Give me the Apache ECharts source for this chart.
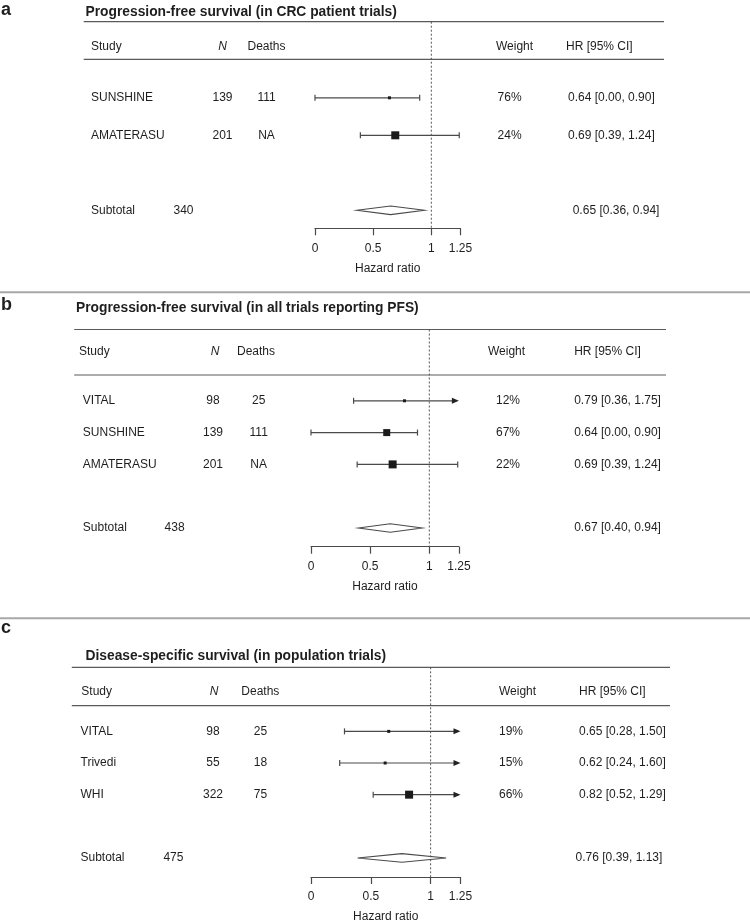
<!DOCTYPE html>
<html>
<head>
<meta charset="utf-8">
<script src="https://cdn.jsdelivr.net/npm/echarts@6/dist/echarts.min.js"></script>
<style>
html,body{margin:0;padding:0;background:#fff;}
#chart{width:750px;height:924px;}
</style>
</head>
<body>
<div id="chart"></div>
<script>
// ---------------- DATA ----------------
const LETTERS = ['a', 'b', 'c'];
const TITLES = [
  'Progression-free survival (in CRC patient trials)',
  'Progression-free survival (in all trials reporting PFS)',
  'Disease-specific survival (in population trials)'
];
const HEADERS = ['Study', 'N', 'Deaths', 'Weight', 'HR [95% CI]'];
const SUBTOTAL_LABEL = 'Subtotal';
const X_NAME = 'Hazard ratio';
const TICKS = [0, 0.5, 1, 1.25];
const X_MIN = 0;
const X_MAX = 1.25;

// Panel a
const A_STUDY = ['SUNSHINE', 'AMATERASU'];
const A_N = [139, 201];
const A_DEATHS = ['111', 'NA'];
const A_WEIGHT = ['76%', '24%'];
const A_HR = [0.64, 0.69];
const A_LO = [0.00, 0.39];
const A_HI = [0.90, 1.24];
const A_TOTAL_N = 340;
const A_SUB = [0.65, 0.36, 0.94];

// Panel b
const B_STUDY = ['VITAL', 'SUNSHINE', 'AMATERASU'];
const B_N = [98, 139, 201];
const B_DEATHS = ['25', '111', 'NA'];
const B_WEIGHT = ['12%', '67%', '22%'];
const B_HR = [0.79, 0.64, 0.69];
const B_LO = [0.36, 0.00, 0.39];
const B_HI = [1.75, 0.90, 1.24];
const B_TOTAL_N = 438;
const B_SUB = [0.67, 0.40, 0.94];

// Panel c
const C_STUDY = ['VITAL', 'Trivedi', 'WHI'];
const C_N = [98, 55, 322];
const C_DEATHS = ['25', '18', '75'];
const C_WEIGHT = ['19%', '15%', '66%'];
const C_HR = [0.65, 0.62, 0.82];
const C_LO = [0.28, 0.24, 0.52];
const C_HI = [1.50, 1.60, 1.29];
const C_TOTAL_N = 475;
const C_SUB = [0.76, 0.39, 1.13];

const PANELS = [
  {study: A_STUDY, n: A_N, deaths: A_DEATHS, weight: A_WEIGHT, hr: A_HR, lo: A_LO, hi: A_HI, totalN: A_TOTAL_N, sub: A_SUB},
  {study: B_STUDY, n: B_N, deaths: B_DEATHS, weight: B_WEIGHT, hr: B_HR, lo: B_LO, hi: B_HI, totalN: B_TOTAL_N, sub: B_SUB},
  {study: C_STUDY, n: C_N, deaths: C_DEATHS, weight: C_WEIGHT, hr: C_HR, lo: C_LO, hi: C_HI, totalN: C_TOTAL_N, sub: C_SUB}
];

// ---------------- LAYOUT / STYLE ----------------
const FONT = '"Liberation Sans", Arial, Helvetica, sans-serif';
const INK = '#1e1e1e';
const LINE_INK = '#4a4a4a';
const SEPARATORS = [292.3, 618.3];

const LAYOUT = [
  {letterY: 10, titleX: 85.5, titleY: 12, ruleL: 83.7, ruleR: 664, top: 21.7, headY: 46.7, headRule: 59.3,
   axisY: 228.3, gridL: 315, gridR: 460.4, row1: 97.8, step: 37.5,
   col: {study: 91, studyHead: 91, n: 222.5, nHead: 222.5, nSub: 183.5, deaths: 266.5, deathsHead: 266.5,
         weight: 497.6, weightHead: 496, hr: 568, hrHead: 566, hrSub: 572.7},
   box: [3, 8]},
  {letterY: 305, titleX: 76, titleY: 308.5, ruleL: 74.2, ruleR: 666, top: 329.5, headY: 352, headRule: 375,
   axisY: 546.7, gridL: 311, gridR: 458.9, row1: 400.8, step: 31.8,
   col: {study: 82.8, studyHead: 79, n: 213, nHead: 215, nSub: 174.6, deaths: 258.7, deathsHead: 256,
         weight: 496, weightHead: 488, hr: 574.2, hrHead: 574.2, hrSub: 574.2},
   box: [3, 7, 8]},
  {letterY: 628, titleX: 85.5, titleY: 656, ruleL: 71.8, ruleR: 670, top: 667.3, headY: 691.7, headRule: 705.7,
   axisY: 880.7, gridL: 311, gridR: 460.5, row1: 732.5, step: 32.2,
   col: {study: 80.5, studyHead: 81.3, n: 213, nHead: 214, nSub: 173.4, deaths: 260.5, deathsHead: 260.3,
         weight: 499, weightHead: 499, hr: 579, hrHead: 579, hrSub: 575.6},
   box: [3, 3, 8]}
];
const CAP = 3;
const ARROW_LEN = 7;
const ARROW_HALF = 3;
const DIAMOND_HALF = 4.3;

function yRange(L) {
  return [1 - (L.row1 - L.top) / L.step, 1 + (L.axisY - L.row1) / L.step];
}
function hrText(h, l, u) {
  return h.toFixed(2) + ' [' + l.toFixed(2) + ', ' + u.toFixed(2) + ']';
}
function txt(text, x, y, align, font) {
  return {
    type: 'text', x: x, y: y, silent: true,
    style: {text: text, fill: INK, font: font || ('12px ' + FONT),
            textAlign: align, align: align, textVerticalAlign: 'middle', verticalAlign: 'middle'}
  };
}

function forestRender(pi) {
  return function (params, api) {
    const L = LAYOUT[pi];
    const hr = api.value(0), lo = api.value(1), hi = api.value(2), row = api.value(3);
    const clipped = hi > X_MAX;
    const pL = api.coord([lo, row]);
    const pH = api.coord([Math.min(hi, X_MAX), row]);
    const pC = api.coord([hr, row]);
    const y = pL[1];
    const ls = {stroke: LINE_INK, lineWidth: 1.2};
    const ch = [];
    const endX = clipped ? pH[0] - ARROW_LEN + 1 : pH[0];
    ch.push({type: 'line', shape: {x1: pL[0], y1: y, x2: endX, y2: y}, style: ls});
    ch.push({type: 'line', shape: {x1: pL[0], y1: y - CAP, x2: pL[0], y2: y + CAP}, style: ls});
    if (clipped) {
      ch.push({type: 'polygon', shape: {points: [[pH[0], y], [pH[0] - ARROW_LEN, y - ARROW_HALF], [pH[0] - ARROW_LEN, y + ARROW_HALF]]},
               style: {fill: '#222'}});
    } else {
      ch.push({type: 'line', shape: {x1: pH[0], y1: y - CAP, x2: pH[0], y2: y + CAP}, style: ls});
    }
    const s = L.box[params.dataIndex];
    ch.push({type: 'rect', shape: {x: pC[0] - s / 2, y: y - s / 2, width: s, height: s}, style: {fill: '#1a1a1a'}});
    return {type: 'group', children: ch};
  };
}

function diamondRender(pi) {
  return function (params, api) {
    const hr = api.value(0), lo = api.value(1), hi = api.value(2), row = api.value(3);
    const pL = api.coord([lo, row]), pH = api.coord([hi, row]), pC = api.coord([hr, row]);
    const y = pC[1];
    return {
      type: 'polygon',
      shape: {points: [[pL[0], y], [pC[0], y - DIAMOND_HALF], [pH[0], y], [pC[0], y + DIAMOND_HALF]]},
      style: {fill: '#fff', stroke: LINE_INK, lineWidth: 1.1}
    };
  };
}

function textRender(pi) {
  return function (params, api) {
    const L = LAYOUT[pi], P = PANELS[pi], c = L.col;
    const row = api.value(0);
    const y = api.coord([0, row])[1];
    const k = params.dataIndex;
    const els = [];
    if (k < P.study.length) {
      els.push(txt(P.study[k], c.study, y, 'left'));
      els.push(txt(String(P.n[k]), c.n, y, 'center'));
      els.push(txt(P.deaths[k], c.deaths, y, 'center'));
      els.push(txt(P.weight[k], c.weight, y, 'left'));
      els.push(txt(hrText(P.hr[k], P.lo[k], P.hi[k]), c.hr, y, 'left'));
    } else {
      els.push(txt(SUBTOTAL_LABEL, c.study, y, 'left'));
      els.push(txt(String(P.totalN), c.nSub, y, 'center'));
      els.push(txt(hrText(P.sub[0], P.sub[1], P.sub[2]), c.hrSub, y, 'left'));
    }
    return {type: 'group', children: els};
  };
}

// ---------------- OPTION ----------------
const grids = [], xAxes = [], yAxes = [], series = [], graphics = [];

SEPARATORS.forEach(function (y) {
  graphics.push({type: 'line', silent: true, shape: {x1: 0, y1: y, x2: 750, y2: y}, style: {stroke: '#a8a8a8', lineWidth: 2}});
});

LAYOUT.forEach(function (L, i) {
  const P = PANELS[i];
  const yr = yRange(L);
  grids.push({left: L.gridL, top: L.top, width: L.gridR - L.gridL, height: L.axisY - L.top});
  xAxes.push({
    type: 'value', gridIndex: i, min: X_MIN, max: X_MAX, position: 'bottom',
    axisLine: {show: true, onZero: false, lineStyle: {color: LINE_INK, width: 1.2}},
    axisTick: {show: true, length: 7, lineStyle: {color: LINE_INK, width: 1.2}, customValues: TICKS},
    axisLabel: {show: true, customValues: TICKS, margin: 14, color: INK, fontSize: 12, fontFamily: FONT,
                formatter: function (v) { return String(v); }},
    splitLine: {show: false},
    name: X_NAME, nameLocation: 'middle', nameGap: 34,
    nameTextStyle: {color: INK, fontSize: 12, fontFamily: FONT}
  });
  yAxes.push({type: 'value', gridIndex: i, inverse: true, min: yr[0], max: yr[1], show: false});

  // dashed reference line at HR = 1
  series.push({
    type: 'line', xAxisIndex: i, yAxisIndex: i, silent: true, symbol: 'none', animation: false,
    data: [[1, yr[0]], [1, yr[1]]],
    lineStyle: {color: '#555', width: 1, type: [2, 2]}
  });
  // study CI + boxes
  series.push({
    type: 'custom', xAxisIndex: i, yAxisIndex: i, silent: true, animation: false, clip: false,
    renderItem: forestRender(i),
    data: P.hr.map(function (h, k) { return [h, P.lo[k], P.hi[k], k + 1]; })
  });
  // subtotal diamond
  series.push({
    type: 'custom', xAxisIndex: i, yAxisIndex: i, silent: true, animation: false, clip: false,
    renderItem: diamondRender(i),
    data: [[P.sub[0], P.sub[1], P.sub[2], P.study.length + 2]]
  });
  // table text rows
  const rows = P.study.map(function (s, k) { return [k + 1]; });
  rows.push([P.study.length + 2]);
  series.push({
    type: 'custom', xAxisIndex: i, yAxisIndex: i, silent: true, animation: false, clip: false,
    renderItem: textRender(i), data: rows
  });

  // static decorations: letter, title, rules, headers
  graphics.push(txt(LETTERS[i], 1, L.letterY, 'left', 'bold 18px ' + FONT));
  graphics.push(txt(TITLES[i], L.titleX, L.titleY, 'left', 'bold 13.8px ' + FONT));
  graphics.push({type: 'line', silent: true, shape: {x1: L.ruleL, y1: L.top, x2: L.ruleR, y2: L.top}, style: {stroke: '#5a5a5a', lineWidth: 1.2}});
  graphics.push({type: 'line', silent: true, shape: {x1: L.ruleL, y1: L.headRule, x2: L.ruleR, y2: L.headRule}, style: {stroke: '#5a5a5a', lineWidth: 1.2}});
  const c = L.col;
  graphics.push(txt(HEADERS[0], c.studyHead, L.headY, 'left'));
  graphics.push(txt(HEADERS[1], c.nHead, L.headY, 'center', 'italic 12px ' + FONT));
  graphics.push(txt(HEADERS[2], c.deathsHead, L.headY, 'center'));
  graphics.push(txt(HEADERS[3], c.weightHead, L.headY, 'left'));
  graphics.push(txt(HEADERS[4], c.hrHead, L.headY, 'left'));
});

const option = {
  animation: false,
  backgroundColor: '#ffffff',
  grid: grids,
  xAxis: xAxes,
  yAxis: yAxes,
  series: series,
  graphic: {elements: graphics}
};

const chart = echarts.init(document.getElementById('chart'), null, {renderer: 'canvas', width: 750, height: 924});
chart.setOption(option);
</script>
</body>
</html>
